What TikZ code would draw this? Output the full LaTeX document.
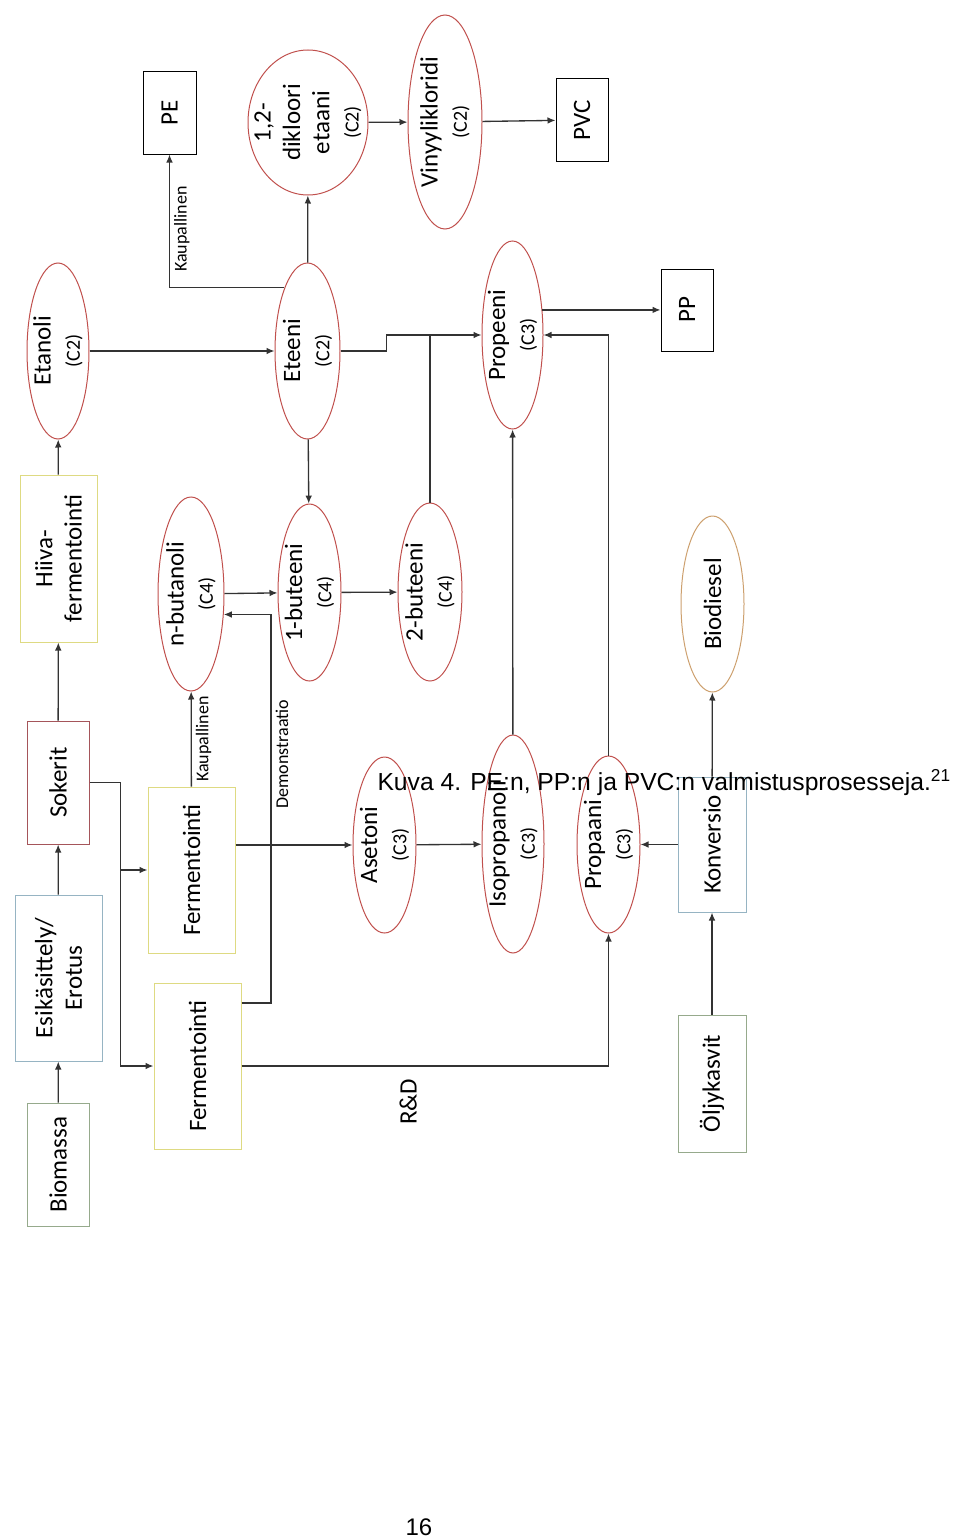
\documentclass[tikz,border=0pt]{standalone}
\usepackage{fontspec}
\setmainfont{Carlito}
\newfontfamily\capfont{Liberation Sans}
\usetikzlibrary{shapes.geometric,arrows.meta}

\definecolor{chemred}{RGB}{192,80,77}
\definecolor{fermyel}{RGB}{222,218,130}
\definecolor{sugarred}{RGB}{165,85,90}
\definecolor{prepblue}{RGB}{150,180,195}
\definecolor{rawgreen}{RGB}{150,170,140}
\definecolor{dieseltan}{RGB}{205,160,110}

\tikzset{every picture/.style={line width=0.75pt}}
\tikzset{
  box/.style={draw, rectangle, inner sep=0pt},
  chem/.style={draw=chemred, ellipse, inner sep=0pt},
  dims/.style 2 args={minimum width=#1*0.75pt, minimum height=#2*0.75pt},
  vtext/.style={rotate=90, align=center, inner sep=0pt, font=\fontsize{18.75}{22}\selectfont},
  tag/.style={rotate=90, inner sep=3pt, font=\fontsize{13.5}{16}\selectfont},
  link/.style={draw=black!80, line width=1pt, -{Latex[length=6pt,width=5pt]}},
}
\newcommand{\cn}[1]{{\fontsize{15}{22}\selectfont(#1)}}

\begin{document}
\begin{tikzpicture}[x=0.75pt,y=0.75pt,yscale=-1,xscale=1]
\useasboundingbox (0,0) rectangle (960,1538);

%Shape: Rectangles
\node[box, draw=rawgreen, dims={62}{123}, label={[vtext]center:Biomassa}] (biomassa) at (58,1164.5) {};
\node[box, draw=prepblue, dims={87}{166}, label={[vtext]center:{Esikäsittely/\\Erotus}}] (esik) at (58.5,978) {};
\node[box, draw=sugarred, dims={62}{123}, label={[vtext]center:Sokerit}] (sokerit) at (58,782.5) {};
\node[box, draw=fermyel, dims={77}{167}, label={[vtext]center:{Hiiva-\\fermentointi}}] (hiiva) at (58.5,558.5) {};
\node[box, draw=fermyel, dims={87}{166}, label={[vtext]center:Fermentointi}] (ferm1) at (191.5,870) {};
\node[box, draw=fermyel, dims={87}{166}, label={[vtext]center:Fermentointi}] (ferm2) at (197.5,1066) {};
\node[box, dims={53}{82}, label={[vtext]center:PE}] (pe) at (169.5,113) {};
\node[box, dims={52}{82}, label={[vtext]center:PVC}] (pvc) at (582,120) {};
\node[box, dims={52}{82}, label={[vtext]center:PP}] (pp) at (687,310) {};
\node[box, draw=prepblue, dims={68}{135}, label={[vtext]center:Konversio}] (konversio) at (712,844.5) {};
\node[box, draw=rawgreen, dims={68}{137}, label={[vtext]center:Öljykasvit}] (oljy) at (712,1083.5) {};

%Shape: Ellipses
\node[chem, dims={62}{176}, label={[vtext]center:{Etanoli\\\cn{C2}}}] (etanoli) at (58,351) {};
\node[chem, dims={65}{176}, label={[vtext]center:{Eteeni\\\cn{C2}}}] (eteeni) at (307.5,351) {};
\node[chem, dims={120}{145}, label={[vtext]center:{1,2-\\dikloori\\etaani\\\cn{C2}}}] (dikloori) at (308,122.5) {};
\node[chem, dims={74}{214}, label={[vtext]center:{Vinyylikloridi\\\cn{C2}}}] (vinyyli) at (445,122) {};
\node[chem, dims={61}{188}, label={[vtext]center:{Propeeni\\\cn{C3}}}] (propeeni) at (512.5,335) {};
\node[chem, dims={66}{194}, label={[vtext]center:{n-butanoli\\\cn{C4}}}] (butanoli) at (191,594) {};
\node[chem, dims={63}{177}, label={[vtext]center:{1-buteeni\\\cn{C4}}}] (buteeni1) at (309.5,592.5) {};
\node[chem, dims={64}{178}, label={[vtext]center:{2-buteeni\\\cn{C4}}}] (buteeni2) at (430,592) {};
\node[chem, draw=dieseltan, dims={63}{176}, label={[vtext]center:Biodiesel}] (biodiesel) at (712.5,604) {};
\node[chem, dims={63}{176}, label={[vtext]center:{Asetoni\\\cn{C3}}}] (asetoni) at (384.5,845) {};
\node[chem, dims={62}{218}, label={[vtext]center:{Isopropanoli\\\cn{C3}}}] (isoprop) at (513,844) {};
\node[chem, dims={63}{177}, label={[vtext]center:{Propaani\\\cn{C3}}}] (propaani) at (608.5,844.5) {};

%Straight Lines
\draw[link] (biomassa) -- (esik);
\draw[link] (esik) -- (sokerit);
\draw[link] (sokerit) -- (hiiva);
\draw[link] (hiiva) -- (etanoli);
\draw[link] (sokerit.east) -- ++(31,0) coordinate (split) |- (ferm2.west);
\draw[link] (split |- ferm1.west) -- (ferm1.west);
\draw[link] (ferm1) -- node[tag, anchor=north] {Kaupallinen} (butanoli);
\draw[link] (ferm1.east |- asetoni) -- (asetoni);
\coordinate (demo) at (271,1003);
\draw[link] (ferm2.east |- demo) -- (demo) |- node[tag, pos=0.32, anchor=north] {Demonstraatio} (butanoli.-32);
\draw[link] (ferm2.east) -| node[vtext, pos=0.227, anchor=east, inner sep=9pt] {R\&D} (propaani.south);
\draw[link] (butanoli) -- (buteeni1);
\draw[link] (buteeni1) -- (buteeni2);
\draw[link] (eteeni) -- (buteeni1);
\draw[draw=black!80, line width=1pt] (buteeni2.north) -- (buteeni2.north |- propeeni.west);
\draw[link] (eteeni.east) -- ++(46,0) |- (propeeni.west);
\draw[link] (etanoli) -- (eteeni);
\draw[link] (eteeni) -- (dikloori);
\draw[link] (eteeni.110) -| node[tag, pos=0.72, anchor=north] {Kaupallinen} (pe.south);
\draw[link] (dikloori) -- (vinyyli);
\draw[link] (vinyyli) -- (pvc);
\draw[link] (propeeni.40) -- (propeeni.40 -| pp.west);
\draw[link] (isoprop) -- (propeeni);
\draw[link] (propaani.north) |- (propeeni.east);
\draw[link] (konversio) -- (propaani);
\draw[link] (konversio) -- (biodiesel);
\draw[link] (oljy) -- (konversio);
\draw[link] (asetoni) -- (isoprop);

% Text Node
\node[anchor=base west, inner sep=0pt, font=\capfont\fontsize{18.5}{22}\selectfont] (caption) at (377,790) {Kuva 4. PE:n, PP:n ja PVC:n valmistusprosesseja.\textsuperscript{21}};
% Text Node
\node[anchor=base west, inner sep=0pt, font=\capfont\fontsize{18}{22}\selectfont] (page) at (405,1535) {16};
\end{tikzpicture}
\end{document}
